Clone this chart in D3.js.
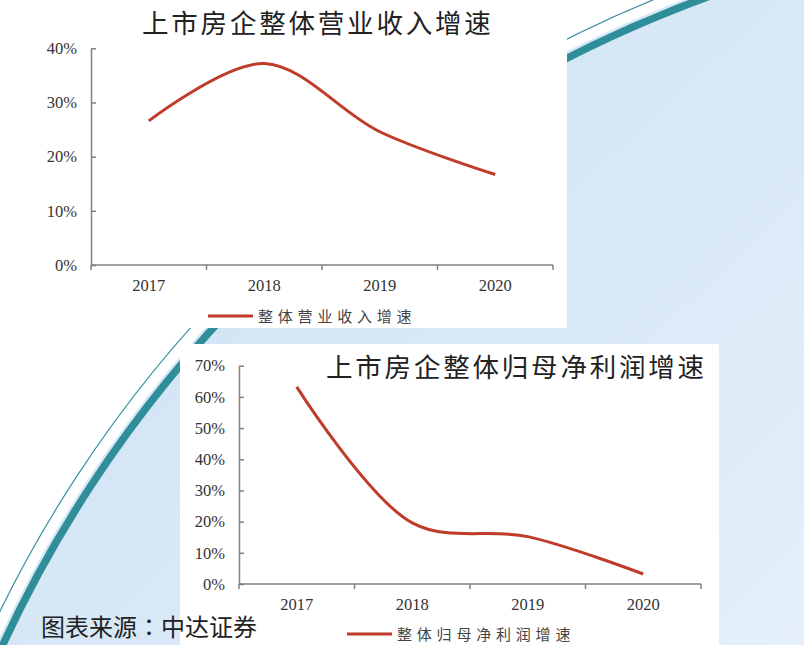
<!DOCTYPE html>
<html>
<head>
<meta charset="utf-8">
<script src="https://cdn.jsdelivr.net/npm/d3@7"></script>
<style>
  html, body { margin: 0; padding: 0; background: #fff; }
  svg { display: block; }
  .tick text { font-family: "Liberation Serif", "Times New Roman", serif; font-size: 16.5px; fill: #333; }
  .axis path, .axis line { stroke: #808080; stroke-width: 1.5; }
  .title { font-family: "Noto Sans CJK SC", sans-serif; font-size: 26.5px; fill: #222; letter-spacing: 2.8px; }
  .legend { font-family: "Noto Sans CJK SC", sans-serif; font-size: 15px; fill: #444; letter-spacing: 4.8px; }
</style>
</head>
<body>
<div id="container"></div>
<script>
const years = ["2017", "2018", "2019", "2020"];
const revenueGrowth = [26.6, 37.2, 24.6, 16.7];
const profitGrowth = [63.2, 19.6, 15.2, 3.2];
const revenueTicks = [0, 10, 20, 30, 40];
const profitTicks = [0, 10, 20, 30, 40, 50, 60, 70];

const W = 804, H = 645;
const lineColor = "#bf3b2a";

const svg = d3.select("#container").append("svg")
  .attr("width", W)
  .attr("height", H);

// background: blue arc sweeping from top right to bottom left
const defs = svg.append("defs");
const grad = defs.append("linearGradient")
  .attr("id", "bg")
  .attr("gradientUnits", "userSpaceOnUse")
  .attr("x1", 300).attr("y1", 100)
  .attr("x2", 804).attr("y2", 645);
grad.append("stop").attr("offset", 0).attr("stop-color", "#d1e4f5");
grad.append("stop").attr("offset", 1).attr("stop-color", "#e4eff9");

const cx = 1133, cy = 1167;
svg.append("circle")
  .attr("cx", cx).attr("cy", cy).attr("r", 1251)
  .attr("fill", "url(#bg)");
svg.append("circle")
  .attr("cx", cx).attr("cy", cy).attr("r", 1245)
  .attr("fill", "none")
  .attr("stroke", "#2f8e9a")
  .attr("stroke-width", 7.5);
svg.append("circle")
  .attr("cx", cx).attr("cy", cy).attr("r", 1262)
  .attr("fill", "none")
  .attr("stroke", "#3a919c")
  .attr("stroke-width", 1.2);

// white chart panels
svg.append("rect").attr("x", 0).attr("y", 0).attr("width", 567).attr("height", 328).attr("fill", "#fff");
svg.append("rect").attr("x", 180).attr("y", 344).attr("width", 539).attr("height", 301).attr("fill", "#fff");

function drawChart(opt) {
  const x = d3.scaleBand()
    .domain(years)
    .range([opt.left, opt.right]);
  const y = d3.scaleLinear()
    .domain([0, d3.max(opt.ticks)])
    .range([opt.bottom, opt.top]);

  svg.append("g")
    .attr("class", "axis")
    .attr("transform", `translate(0,${opt.bottom})`)
    .call(d3.axisBottom(x).tickSize(0).tickPadding(14))
    .call(g => g.select(".domain").attr("d", `M${opt.left},0H${opt.right}`));

  // x ticks sit on the band edges
  svg.append("g")
    .attr("class", "axis")
    .selectAll("line")
    .data(years.concat("end"))
    .enter()
    .append("line")
    .attr("x1", (d, i) => i < years.length ? x(d) : opt.right)
    .attr("x2", (d, i) => i < years.length ? x(d) : opt.right)
    .attr("y1", opt.bottom)
    .attr("y2", opt.bottom + 5);

  svg.append("g")
    .attr("class", "axis")
    .attr("transform", `translate(${opt.left},0)`)
    .call(d3.axisLeft(y)
      .tickValues(opt.ticks)
      .tickSizeInner(-5)
      .tickSizeOuter(0)
      .tickPadding(14)
      .tickFormat(d => d + "%"));

  const line = d3.line()
    .x((d, i) => x(years[i]) + x.bandwidth() / 2)
    .y(d => y(d))
    .curve(d3.curveCatmullRom);

  svg.append("path")
    .datum(opt.values)
    .attr("fill", "none")
    .attr("stroke", lineColor)
    .attr("stroke-width", 3)
    .attr("d", line);

  svg.append("text")
    .attr("class", "title")
    .attr("x", opt.titleX)
    .attr("y", opt.titleY)
    .text(opt.title);

  svg.append("line")
    .attr("x1", opt.legendX).attr("x2", opt.legendX + 45)
    .attr("y1", opt.legendY).attr("y2", opt.legendY)
    .attr("stroke", lineColor)
    .attr("stroke-width", 3);
  svg.append("text")
    .attr("class", "legend")
    .attr("x", opt.legendX + 50)
    .attr("y", opt.legendY + 5.5)
    .text(opt.legend);
}

drawChart({
  left: 91, right: 553, top: 48.3, bottom: 265,
  ticks: revenueTicks, values: revenueGrowth,
  title: "上市房企整体营业收入增速", titleX: 142, titleY: 33,
  legend: "整体营业收入增速", legendX: 208, legendY: 316
});

drawChart({
  left: 239, right: 701, top: 365.7, bottom: 584,
  ticks: profitTicks, values: profitGrowth,
  title: "上市房企整体归母净利润增速", titleX: 326, titleY: 377,
  legend: "整体归母净利润增速", legendX: 347, legendY: 634
});

const source = svg.append("text")
  .attr("x", 41)
  .attr("y", 636)
  .style("font-family", "'Noto Sans CJK SC', sans-serif")
  .style("font-size", "24px")
  .style("fill", "#222");
source.append("tspan").text("图表来源");
source.append("tspan").style("font-family", "'Noto Sans CJK JP', sans-serif").text("：");
source.append("tspan").text("中达证券");
</script>
</body>
</html>
